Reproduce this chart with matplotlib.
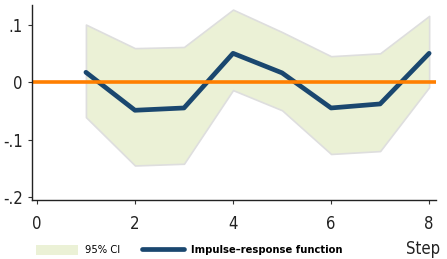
import matplotlib
matplotlib.use('Agg')
import matplotlib.pyplot as plt
from matplotlib.patches import Patch
from matplotlib.lines import Line2D

plt.rcParams['font.family'] = ['DejaVu Sans']
plt.rcParams['font.stretch'] = 'condensed'

# data
steps = [1, 2, 3, 4, 5, 6, 7, 8]
irf = [0.017, -0.049, -0.045, 0.050, 0.016, -0.045, -0.038, 0.050]
ci_upper = [0.100, 0.059, 0.061, 0.126, 0.087, 0.045, 0.050, 0.115]
ci_lower = [-0.061, -0.145, -0.142, -0.014, -0.049, -0.125, -0.120, -0.009]
xticks = [0, 2, 4, 6, 8]
yticks = [0.1, 0, -0.1, -0.2]
ytick_labels = ['.1', '0', '-.1', '-.2']

fig = plt.figure(figsize=(4.47, 2.59), dpi=100)
ax = fig.add_axes([32 / 447, 59 / 259, 404 / 447, 195 / 259])

ax.fill_between(steps, ci_lower, ci_upper, facecolor='#ebf1d6', edgecolor='#dedede', linewidth=1.2)
ax.plot(steps, irf, color='#1a476f', linewidth=3.4, solid_capstyle='round')
ax.axhline(0, color='#ff7f00', linewidth=2.6)

ax.set_xlim(-0.1, 8.14)
ax.set_ylim(-0.205, 0.134)
ax.set_xticks(xticks)
ax.set_yticks(yticks)
ax.set_yticklabels(ytick_labels)
ax.tick_params(labelsize=12, length=3, color='#333333', labelcolor='#222222')
ax.tick_params(axis='x', pad=8)
for s in ['top', 'right']:
    ax.spines[s].set_visible(False)
for s in ['left', 'bottom']:
    ax.spines[s].set_color('#222222')
    ax.spines[s].set_linewidth(1)

handles = [Patch(facecolor='#ebf1d6', edgecolor='none'),
           Line2D([0], [0], color='#1a476f', linewidth=3.4, solid_capstyle='round')]
leg = fig.legend(handles, ['95% CI', 'Impulse\u2013response function'],
                 loc='center left', bbox_to_anchor=(26 / 447, 9 / 259), ncol=2, frameon=False,
                 fontsize=8, handlelength=3.8, handleheight=1.0, columnspacing=1.9, handletextpad=0.65)
leg.get_texts()[1].set_fontweight('bold')

fig.text(440 / 447, 10 / 259, 'Step', ha='right', va='center', fontsize=12, color='#222222')

fig.savefig('out.png', dpi=100)
